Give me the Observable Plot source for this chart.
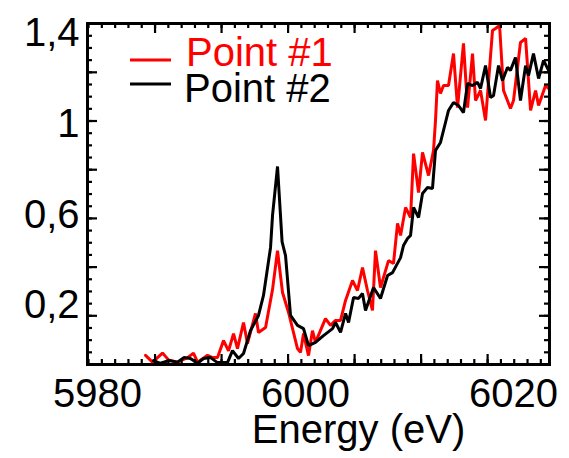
<!DOCTYPE html>
<html>
<head>
<meta charset="utf-8">
<script src="https://cdn.jsdelivr.net/npm/d3@7"></script>
<script src="https://cdn.jsdelivr.net/npm/@observablehq/plot@0.6"></script>
<style>
  html, body { margin: 0; padding: 0; background: #fff; }
  #chart { width: 569px; height: 458px; }
</style>
</head>
<body>
<div id="chart"></div>
<script>
// ---- Data ----
const seriesNames = ["Point #1", "Point #2"];
const seriesColors = ["#ff0000", "#000000"];

const energy1 = [5984.62,5985.29,5986.25,5986.83,5987.69,5988.66,5989.23,5989.62,5990.58,5991.06,5991.54,5992.12,5992.60,5993.08,5993.46,5994.04,5994.42,5995.19,5995.48,5996.16,5996.83,5997.31,5997.79,5998.37,5999.23,5999.52,5999.81,6000.29,6000.67,6000.96,6001.92,6002.41,6002.89,6003.37,6003.85,6004.52,6005.00,6005.48,6005.96,6006.44,6006.73,6007.21,6007.98,6008.46,6008.85,6009.14,6009.62,6010.10,6010.39,6010.87,6011.25,6011.83,6012.31,6012.50,6012.69,6012.98,6013.27,6013.75,6014.23,6014.62,6015.19,6015.58,6016.06,6016.35,6016.83,6017.31,6017.98,6018.27,6018.66,6019.04,6019.71,6020.00,6020.67,6021.16,6021.64,6022.12,6022.41,6023.08,6023.56];
const point1 = [-0.02,-0.05,-0.01,-0.04,-0.05,-0.03,-0.01,-0.05,-0.02,-0.03,-0.03,0.045,0.00,0.076,0.01,0.125,0.032,0.165,0.081,0.103,0.27,0.442,0.257,0.169,0.010,-0.007,0.076,-0.021,0.089,0.037,0.142,0.112,0.134,0.134,0.222,0.310,0.266,0.367,0.266,0.178,0.442,0.279,0.398,0.385,0.562,0.509,0.632,0.588,0.870,0.698,0.875,0.773,0.884,1.016,1.192,1.135,1.170,1.170,1.311,1.073,1.356,1.073,1.311,1.104,1.148,1.016,1.413,1.422,1.435,1.148,1.069,1.104,1.360,1.378,1.060,1.148,1.082,1.170,1.148];

const energy2 = [5985.39,5986.06,5986.83,5987.69,5988.30,5988.94,5989.62,5990.20,5990.87,5991.54,5992.00,5992.50,5992.98,5993.56,5994.04,5994.71,5995.48,5995.96,5996.64,5996.83,5997.31,5997.75,5998.08,5998.56,5999.23,5999.81,6000.29,6000.96,6001.73,6002.60,6002.89,6003.37,6003.85,6004.14,6004.62,6005.10,6005.48,6005.77,6006.54,6007.21,6007.89,6008.37,6009.14,6009.42,6009.81,6010.10,6010.39,6010.87,6011.25,6011.73,6012.21,6012.50,6012.98,6013.46,6013.75,6014.23,6014.71,6015.19,6015.58,6016.06,6016.54,6016.83,6017.31,6017.79,6018.08,6018.56,6018.94,6019.42,6019.71,6020.19,6020.67,6021.16,6021.44,6021.92,6022.41,6022.89,6023.37];
const point2 = [-0.043,-0.055,-0.043,-0.05,-0.03,-0.034,-0.055,-0.034,-0.030,-0.052,-0.052,-0.052,0.001,-0.034,-0.012,0.089,0.156,0.244,0.456,0.597,0.813,0.48,0.420,0.156,0.112,0.098,0.023,0.037,0.067,0.098,0.125,0.081,0.165,0.125,0.235,0.231,0.253,0.178,0.279,0.231,0.332,0.345,0.411,0.464,0.495,0.509,0.632,0.588,0.694,0.720,0.716,0.884,0.919,1.007,1.060,1.095,1.082,1.051,1.179,1.170,1.184,1.157,1.258,1.117,1.126,1.258,1.192,1.250,1.237,1.294,1.104,1.258,1.214,1.311,1.201,1.281,1.237];

// Tick labels
const xTickValues = [5980, 6000, 6020];
const xTickLabels = ["5980", "6000", "6020"];
const yTickValues = [0.2, 0.6, 1.0, 1.4];
const yTickLabels = ["0,2", "0,6", "1", "1,4"];
const xTitle = "Energy (eV)";

// Axis extents and tick-mark placements (data units)
const xDomain = [5979.04, 6023.46];
const yDomain = [-0.0604, 1.4437];
const xMinorTicks = d3.range(35).map(k => 5979.14 + 1.279 * k);
const xMajorTicks = xMinorTicks.filter((d, k) => k % 5 === 0 && k > 0);
const yMinorTicks = d3.range(1, 28).map(j => -0.0604 + 0.0537 * j);
const yMajorTicks = yMinorTicks.filter((d, i) => (i + 1) % 4 === 0);

// ---- Build table ----
const rows = [];
energy1.forEach((e, i) => rows.push({energy: e, value: point1[i], series: seriesNames[0]}));
energy2.forEach((e, i) => rows.push({energy: e, value: point2[i], series: seriesNames[1]}));

const W = 569, H = 458;
const mL = 87, mR = 20, mT = 23, mB = 94;
const innerH = H - mT - mB;
const innerW = W - mL - mR;
const FONT = "'Liberation Sans', Arial, Helvetica, sans-serif";

function legendMark() {
  return (index, scales, values, dimensions) => {
    const g = d3.create("svg:g").attr("font-family", FONT).attr("font-size", 40).attr("text-anchor", "start");
    const items = [
      {name: seriesNames[0], color: seriesColors[0], ly: 60, ty: 66, tx: 186},
      {name: seriesNames[1], color: seriesColors[1], ly: 84, ty: 102, tx: 184}
    ];
    for (const it of items) {
      g.append("line").attr("x1", 130).attr("x2", 171).attr("y1", it.ly).attr("y2", it.ly)
        .attr("stroke", it.color).attr("stroke-width", 2.8);
      g.append("text").attr("x", it.tx).attr("y", it.ty).attr("fill", it.color)
        .attr("text-anchor", "start").text(it.name);
    }
    return g.node();
  };
}

const chart = Plot.plot({
  width: W, height: H,
  marginLeft: mL, marginRight: mR, marginTop: mT, marginBottom: mB,
  style: {fontFamily: FONT, background: "#fff", overflow: "visible"},
  x: {domain: xDomain, axis: null},
  y: {domain: yDomain, axis: null},
  color: {domain: seriesNames, range: seriesColors},
  marks: [
    Plot.line(rows, {x: "energy", y: "value", stroke: "series", z: "series", strokeWidth: 3, strokeLinejoin: "miter", clip: true}),
    // tick marks, inward on all four sides
    Plot.ruleX(xMinorTicks, {insetTop: innerH - 5, strokeWidth: 2.2}),
    Plot.ruleX(xMinorTicks, {insetBottom: innerH - 5, strokeWidth: 2.2}),
    Plot.ruleX(xMajorTicks, {insetTop: innerH - 10, strokeWidth: 2.2}),
    Plot.ruleX(xMajorTicks, {insetBottom: innerH - 10, strokeWidth: 2.2}),
    Plot.ruleY(yMinorTicks, {insetRight: innerW - 5, strokeWidth: 2.2}),
    Plot.ruleY(yMinorTicks, {insetLeft: innerW - 5, strokeWidth: 2.2}),
    Plot.ruleY(yMajorTicks, {insetRight: innerW - 10, strokeWidth: 2.2}),
    Plot.ruleY(yMajorTicks, {insetLeft: innerW - 10, strokeWidth: 2.2}),
    Plot.frame({stroke: "#000", strokeWidth: 3}),
    // tick labels
    Plot.text(xTickValues, {x: d => d, text: (d, i) => xTickLabels[i], frameAnchor: "bottom", dy: 42, fontSize: 40, fill: "#000"}),
    Plot.text(yTickValues, {y: d => d, text: (d, i) => yTickLabels[i], frameAnchor: "left", textAnchor: "end", dx: -8, fontSize: 40, fill: "#000"}),
    Plot.text([xTitle], {text: d => d, frameAnchor: "bottom", dx: 40, dy: 78, fontSize: 40, fill: "#000"}),
    legendMark()
  ]
});
document.getElementById("chart").appendChild(chart);
</script>
</body>
</html>
